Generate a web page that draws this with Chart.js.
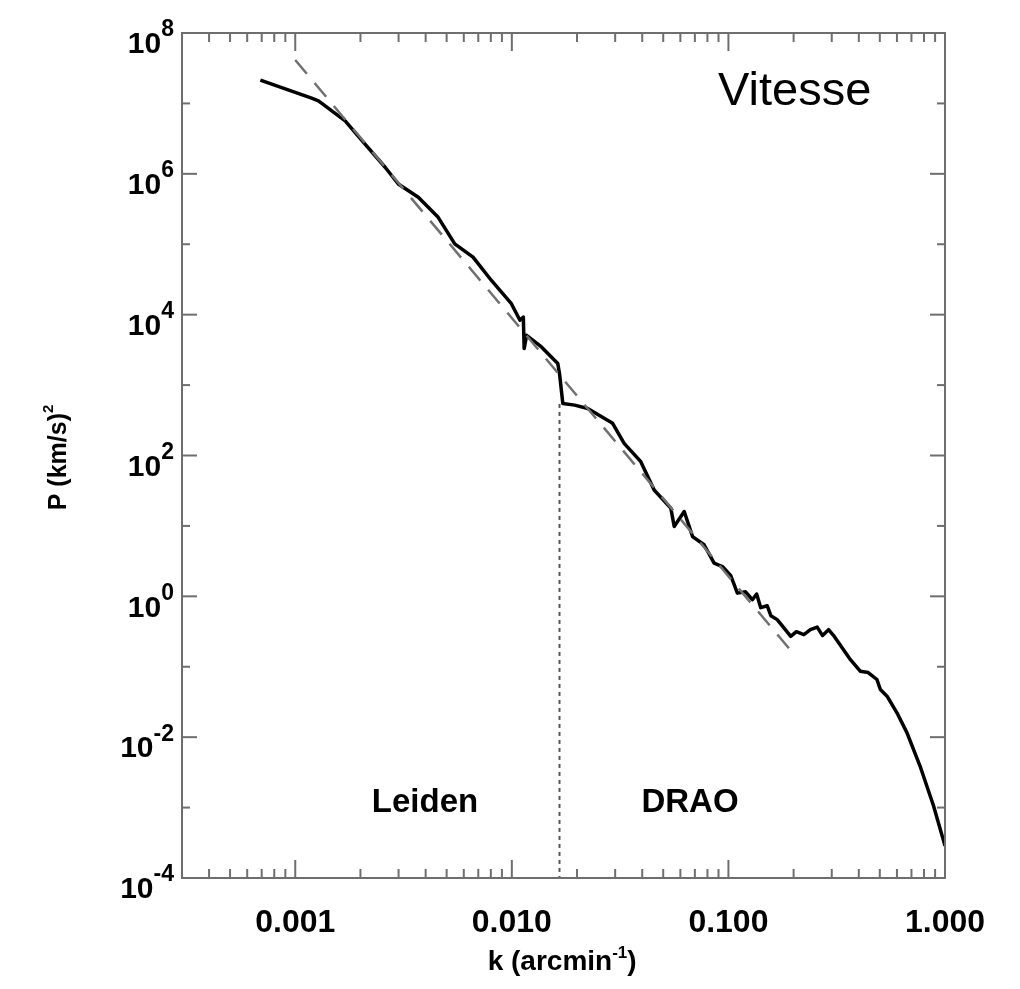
<!DOCTYPE html>
<html>
<head>
<meta charset="utf-8">
<script src="https://cdn.jsdelivr.net/npm/chart.js@4.4.0/dist/chart.umd.min.js"></script>
<style>
html, body { margin: 0; padding: 0; background: #fff; }
#wrap { width: 1020px; height: 989px; }
</style>
</head>
<body>
<div id="wrap"><canvas id="spectrum" width="1020" height="989"></canvas></div>
<script>
// Measured spectrum: k (arcmin^-1) vs P (km/s)^2
const kValues = [6.90e-4, 1.19e-3, 1.28e-3, 1.70e-3, 2.10e-3, 2.60e-3, 2.99e-3, 3.70e-3, 4.57e-3, 5.45e-3,
    6.62e-3, 8.05e-3, 9.95e-3, 1.09e-2, 1.13e-2, 1.14e-2, 1.17e-2, 1.37e-2, 1.63e-2, 1.66e-2,
    1.72e-2, 1.95e-2, 2.24e-2, 2.92e-2, 3.30e-2, 3.94e-2, 4.54e-2, 5.42e-2, 5.62e-2, 6.25e-2,
    6.83e-2, 7.72e-2, 8.59e-2, 9.38e-2, 0.1026, 0.110, 0.120, 0.129, 0.135, 0.141,
    0.151, 0.157, 0.168, 0.180, 0.194, 0.206, 0.223, 0.239, 0.257, 0.272,
    0.290, 0.306, 0.340, 0.366, 0.406, 0.442, 0.485, 0.503, 0.540, 0.600,
    0.667, 0.767, 0.885, 1.0];
const powerValues = [2.14e7, 1.19e7, 1.09e7, 5.66e6, 2.65e6, 1.24e6, 7.18e5, 4.64e5, 2.41e5, 1.01e5,
    6.55e4, 3.06e4, 1.43e4, 8.32e3, 9.25e3, 3.30e3, 5.09e3, 3.48e3, 2.02e3, 1.46e3,
    548, 519, 466, 286, 149, 81.7, 32.4, 17.9, 9.80, 16.0,
    7.06, 5.40, 2.96, 2.65, 1.96, 1.11, 1.16, 0.896, 1.08, 0.690,
    0.736, 0.531, 0.467, 0.360, 0.270, 0.315, 0.286, 0.336, 0.366, 0.277,
    0.336, 0.277, 0.175, 0.126, 0.0865, 0.0828, 0.0659, 0.0475, 0.0382, 0.0222,
    0.0116, 3.89e-3, 1.06e-3, 2.86e-4];

// power-law fit (dashed)
const fitK = [0.001, 0.198];
const fitPower = [4.14e7, 0.158];

// Leiden / DRAO boundary (dotted)
const boundaryK = [0.0166, 0.0166];
const boundaryPower = [540, 1e-4];

// tick labels
const xTickLabels = { '-3': '0.001', '-2': '0.010', '-1': '0.100', '0': '1.000' };
const yTickExponents = [8, 6, 4, 2, 0, -2, -4];

const FONT = "'Liberation Sans', Arial, Helvetica, sans-serif";
const AXIS_GREY = '#6e6e6e';

function toPoints(xs, ys) {
    return xs.map((x, i) => ({ x: x, y: ys[i] }));
}

// mantissa check: returns integer mantissa 1..9 or 0
function mantissa(v) {
    const e = Math.floor(Math.log10(v) + 1e-9);
    const m = v / Math.pow(10, e);
    return Math.abs(m - Math.round(m)) < 1e-6 ? Math.round(m) : 0;
}

function line(ctx, x1, y1, x2, y2) {
    ctx.beginPath();
    ctx.moveTo(x1, y1);
    ctx.lineTo(x2, y2);
    ctx.stroke();
}

// text with a superscript tail; returns x where the superscript ends
function drawSup(ctx, base, sup, x, y, baseSize, supSize, align, rise) {
    ctx.font = `bold ${baseSize}px ${FONT}`;
    const wb = ctx.measureText(base).width;
    ctx.font = `bold ${supSize}px ${FONT}`;
    const ws = ctx.measureText(sup).width;
    const x0 = align === 'right' ? x - wb - ws : x - (wb + ws) / 2;
    ctx.textAlign = 'left';
    ctx.font = `bold ${baseSize}px ${FONT}`;
    ctx.fillText(base, x0, y);
    ctx.font = `bold ${supSize}px ${FONT}`;
    ctx.fillText(sup, x0 + wb, y - rise);
    return x0 + wb + ws;
}

const framePlugin = {
    id: 'frame',
    afterDraw(chart) {
        const ctx = chart.ctx;
        const a = chart.chartArea;
        const xs = chart.scales.x;
        const ys = chart.scales.y;
        ctx.save();
        ctx.strokeStyle = AXIS_GREY;
        ctx.lineWidth = 2;
        ctx.strokeRect(a.left, a.top, a.right - a.left, a.bottom - a.top);

        // x ticks, bottom and top, pointing inward
        xs.ticks.forEach(t => {
            const m = mantissa(t.value);
            if (!m) return;
            const px = xs.getPixelForValue(t.value);
            if (px < a.left + 2 || px > a.right - 2) return;
            const len = m === 1 ? 18 : 9;
            line(ctx, px, a.bottom, px, a.bottom - len);
            line(ctx, px, a.top, px, a.top + len);
        });

        // y ticks every decade, long on even powers
        ys.ticks.forEach(t => {
            if (mantissa(t.value) !== 1) return;
            const py = ys.getPixelForValue(t.value);
            if (py < a.top + 2 || py > a.bottom - 2) return;
            const e = Math.round(Math.log10(t.value));
            const len = e % 2 === 0 ? 15 : 8;
            line(ctx, a.left, py, a.left + len, py);
            line(ctx, a.right, py, a.right - len, py);
        });

        // y tick labels 10^n
        ctx.fillStyle = '#000';
        ctx.textBaseline = 'middle';
        yTickExponents.forEach(e => {
            const py = ys.getPixelForValue(Math.pow(10, e));
            drawSup(ctx, '10', String(e), a.left - 8, py + 12, 30, 23, 'right', 15);
        });

        // x axis title with closing bracket after the superscript
        ctx.textBaseline = 'alphabetic';
        const end = drawSup(ctx, 'k (arcmin', '-1', (a.left + a.right) / 2 - 6, 970, 28, 17, 'center', 12);
        ctx.font = `bold 28px ${FONT}`;
        ctx.fillText(')', end, 970);

        // y axis title
        ctx.save();
        ctx.translate(66, (a.top + a.bottom) / 2 + 2);
        ctx.rotate(-Math.PI / 2);
        drawSup(ctx, 'P (km/s)', '2', 0, 0, 25, 15, 'center', 13);
        ctx.restore();

        // region labels
        ctx.textAlign = 'center';
        ctx.textBaseline = 'middle';
        ctx.font = `bold 33px ${FONT}`;
        ctx.fillText('Leiden', 425, 803);
        ctx.fillText('DRAO', 690, 803);
        ctx.textAlign = 'left';
        ctx.font = `47px ${FONT}`;
        ctx.fillText('Vitesse', 718, 92);
        ctx.restore();
    }
};

new Chart(document.getElementById('spectrum'), {
    type: 'scatter',
    data: {
        datasets: [
            {
                label: 'boundary',
                data: toPoints(boundaryK, boundaryPower),
                showLine: true,
                borderColor: '#555',
                borderWidth: 2,
                borderDash: [4, 4],
                pointRadius: 0
            },
            {
                label: 'fit',
                data: toPoints(fitK, fitPower),
                showLine: true,
                borderColor: '#707070',
                borderWidth: 2.5,
                borderDash: [18, 12],
                pointRadius: 0
            },
            {
                label: 'Vitesse',
                data: toPoints(kValues, powerValues),
                showLine: true,
                borderColor: '#000',
                borderWidth: 3.5,
                borderJoinStyle: 'round',
                tension: 0,
                pointRadius: 0
            }
        ]
    },
    options: {
        responsive: false,
        animation: false,
        devicePixelRatio: 1,
        layout: { padding: { left: 182, right: 75, top: 33, bottom: 0 } },
        plugins: {
            legend: { display: false },
            tooltip: { enabled: false }
        },
        scales: {
            x: {
                type: 'logarithmic',
                min: 0.00031,
                max: 1,
                grid: { display: false, drawTicks: false },
                border: { display: false },
                ticks: {
                    autoSkip: false,
                    maxRotation: 0,
                    padding: 26,
                    color: '#000',
                    font: { family: FONT, size: 32, weight: 'bold' },
                    callback: (value) => {
                        const e = Math.log10(value);
                        const r = Math.round(e);
                        return Math.abs(e - r) < 1e-6 && xTickLabels[r] ? xTickLabels[r] : '';
                    }
                },
                afterFit: (scale) => { scale.height = 111; }
            },
            y: {
                type: 'logarithmic',
                display: false,
                min: 1e-4,
                max: 1e8
            }
        }
    },
    plugins: [framePlugin]
});
</script>
</body>
</html>
